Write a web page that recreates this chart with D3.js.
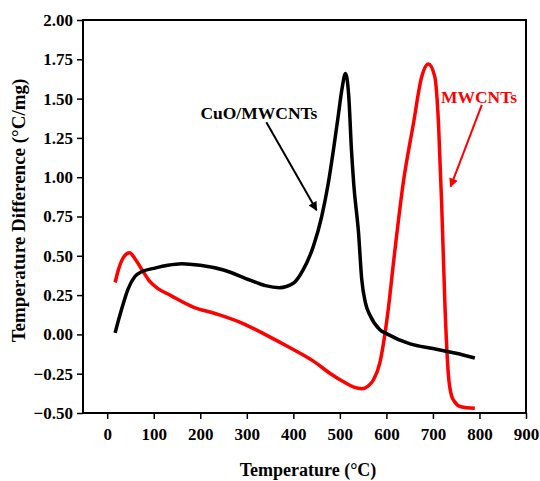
<!DOCTYPE html>
<html>
<head>
<meta charset="utf-8">
<script src="https://cdn.jsdelivr.net/npm/d3@7"></script>
<style>
  body { margin: 0; background: #fff; }
  text { font-family: "Liberation Serif", "Times New Roman", serif; font-weight: bold; }
</style>
</head>
<body>
<div id="chart"></div>
<script>
// CuO/MWCNTs curve (temperature, difference)
const cuoTemp = [17, 30, 45, 60, 75, 100, 130, 160, 200, 250, 307, 340, 370, 400, 421, 443, 461, 475, 486, 496, 505, 512, 519, 525, 530, 540, 547, 555, 565, 586, 600, 651, 700, 750, 790];
const cuoDiff = [0.01, 0.15, 0.29, 0.37, 0.40, 0.42, 0.44, 0.45, 0.44, 0.41, 0.345, 0.31, 0.297, 0.325, 0.41, 0.56, 0.75, 0.96, 1.17, 1.38, 1.57, 1.66, 1.52, 1.17, 0.95, 0.65, 0.35, 0.20, 0.12, 0.03, 0.005, -0.06, -0.09, -0.12, -0.15];

// MWCNTs curve
const mwTemp = [17, 25, 35, 48, 60, 75, 92, 110, 135, 185, 235, 292, 343, 393, 443, 480, 507, 530, 547, 560, 572, 586, 593, 604, 615, 636, 658, 676, 690, 704, 712, 719, 726, 733, 740, 747, 760, 790];
const mwDiff = [0.33, 0.42, 0.49, 0.52, 0.48, 0.41, 0.335, 0.29, 0.25, 0.174, 0.13, 0.069, -0.006, -0.085, -0.17, -0.25, -0.30, -0.335, -0.345, -0.33, -0.29, -0.18, -0.07, 0.16, 0.45, 0.96, 1.34, 1.64, 1.72, 1.64, 1.34, 0.81, 0.17, -0.25, -0.39, -0.43, -0.46, -0.47];

const xTicks = [0, 100, 200, 300, 400, 500, 600, 700, 800, 900];
const yTicks = [-0.5, -0.25, 0, 0.25, 0.5, 0.75, 1.0, 1.25, 1.5, 1.75, 2.0];

// annotation labels: [text, label x, label y, arrow from x, y, arrow to x, y, colour]
const labels = [
  ["CuO/MWCNTs", 326, 1.37, 342, 1.35, 450, 0.79, "#000"],
  ["MWCNTs", 799, 1.475, 805, 1.46, 738, 0.94, "#ff0000"]
];

const width = 540, height = 481;
const margin = { top: 20, right: 14, bottom: 68, left: 83 };

const svg = d3.select("#chart").append("svg")
  .attr("width", width)
  .attr("height", height);

const x = d3.scaleLinear().domain([-52, 900]).range([margin.left, width - margin.right]);
const y = d3.scaleLinear().domain([-0.5, 2.0]).range([height - margin.bottom, margin.top]);

svg.append("defs").selectAll("marker")
  .data(labels)
  .enter().append("marker")
  .attr("id", (d, i) => "arrow" + i)
  .attr("viewBox", "0 0 10 10")
  .attr("refX", 9).attr("refY", 5)
  .attr("markerWidth", 5).attr("markerHeight", 4.5)
  .attr("markerUnits", "strokeWidth")
  .attr("orient", "auto")
  .append("path")
  .attr("d", "M0,0 L10,5 L0,10 Z")
  .attr("fill", d => d[7]);

// axes
const xAxis = d3.axisBottom(x).tickValues(xTicks).tickSize(6).tickPadding(9).tickFormat(d3.format("d"));
const xMinor = d3.axisBottom(x).tickValues(d3.range(-50, 901, 50)).tickSize(3).tickFormat("");
const yAxis = d3.axisLeft(y).tickValues(yTicks).tickSize(6).tickPadding(4).tickFormat(d3.format(".2f"));
const yMinor = d3.axisLeft(y).tickValues(d3.range(-0.5, 2.01, 0.125)).tickSize(3).tickFormat("");

const gx = svg.append("g").attr("transform", `translate(0,${height - margin.bottom})`);
gx.call(xMinor);
gx.call(xAxis);
const gy = svg.append("g").attr("transform", `translate(${margin.left},0)`);
gy.call(yMinor);
gy.call(yAxis);

svg.selectAll(".domain").remove();
svg.selectAll(".tick line").attr("stroke", "#000").attr("stroke-width", 1.5);
svg.selectAll(".tick text").attr("font-size", 17).attr("fill", "#000")
  .attr("font-family", "Liberation Serif, serif").attr("font-weight", "bold");

// frame
svg.append("rect")
  .attr("x", margin.left).attr("y", margin.top)
  .attr("width", width - margin.right - margin.left)
  .attr("height", height - margin.bottom - margin.top)
  .attr("fill", "none").attr("stroke", "#000").attr("stroke-width", 2);

// curves
const line = d3.line()
  .x(d => x(d[0]))
  .y(d => y(d[1]))
  .curve(d3.curveMonotoneX);

svg.append("path")
  .datum(d3.zip(mwTemp, mwDiff))
  .attr("d", line)
  .attr("fill", "none").attr("stroke", "#ff0000").attr("stroke-width", 3.5)
  .attr("stroke-linejoin", "round");

svg.append("path")
  .datum(d3.zip(cuoTemp, cuoDiff))
  .attr("d", line)
  .attr("fill", "none").attr("stroke", "#000").attr("stroke-width", 3.5)
  .attr("stroke-linejoin", "round");

// annotations
labels.forEach((d, i) => {
  svg.append("text")
    .attr("x", x(d[1])).attr("y", y(d[2]))
    .attr("text-anchor", "middle")
    .attr("font-size", 17.5)
    .attr("fill", d[7])
    .text(d[0]);
  svg.append("line")
    .attr("x1", x(d[3])).attr("y1", y(d[4]))
    .attr("x2", x(d[5])).attr("y2", y(d[6]))
    .attr("stroke", d[7]).attr("stroke-width", 2)
    .attr("marker-end", `url(#arrow${i})`);
});

// axis titles
svg.append("text")
  .attr("x", 308).attr("y", 476)
  .attr("text-anchor", "middle")
  .attr("font-size", 18)
  .text("Temperature (°C)");

svg.append("text")
  .attr("transform", `translate(25,${(margin.top + height - margin.bottom) / 2 - 6}) rotate(-90)`)
  .attr("text-anchor", "middle")
  .attr("font-size", 19)
  .text("Temperature Difference (°C/mg)");
</script>
</body>
</html>
